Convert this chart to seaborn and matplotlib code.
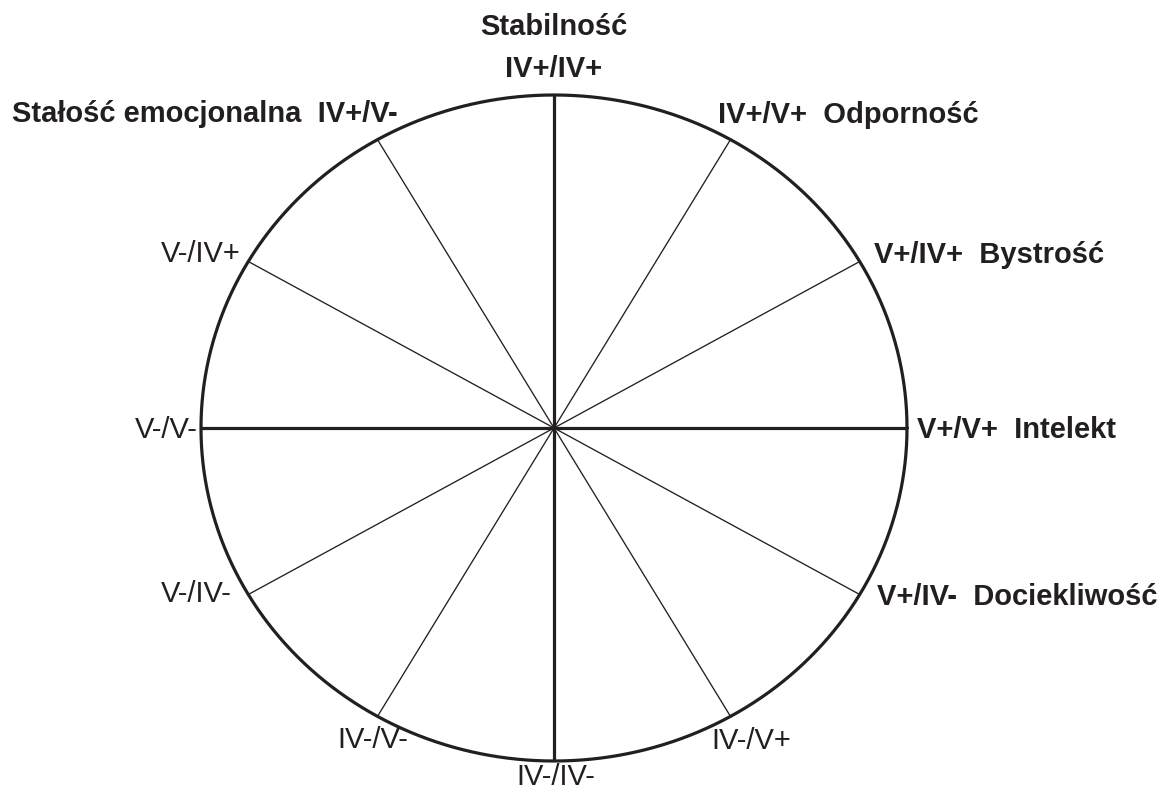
import numpy as np
import pandas as pd
import matplotlib
matplotlib.use("Agg")
import matplotlib.pyplot as plt
import seaborn as sns

# ---- data ----
spoke_angles = [0, 30, 60, 90, 120, 150, 180, 210, 240, 270, 300, 330]
spoke_main = [True, False, False, True, False, False, True, False, False, True, False, False]
labels = ["V+/V+  Intelekt", "V+/IV+  Bystrość", "IV+/V+  Odporność", "IV+/IV+",
          "Stałość emocjonalna  IV+/V-", "V-/IV+", "V-/V-", "V-/IV-", "IV-/V-",
          "IV-/IV-", "IV-/V+", "V+/IV-  Dociekliwość"]
label_bold = [True, True, True, True, True, False, False, False, False, False, False, True]
top_title = "Stabilność"

# ---- layout (pixels) ----
W, H = 1161, 791
CX, CY, RX, RY = 554, 428, 353, 333
label_pos = [(917, 438, "left"), (874, 263, "left"), (718, 123, "left"), (554, 77, "center"),
             (398, 122, "right"), (241, 262, "right"), (198, 438, "right"), (232, 602, "right"),
             (408, 748, "right"), (556, 785, "center"), (711, 749, "left"), (877, 605, "left")]
title_pos = (554, 35)
ink = "#231f20"
FS = 21

sns.set_theme(style="white")
plt.rcParams["font.family"] = ["Liberation Sans", "DejaVu Sans"]

fig = plt.figure(figsize=(W / 100, H / 100), dpi=100)
fig.patch.set_facecolor("white")
ax = fig.add_axes([0, 0, 1, 1])
ax.set_xlim(-CX / RX, (W - CX) / RX)
ax.set_ylim(-(H - CY) / RY, CY / RY)
ax.axis("off")

# spokes
for ang, main in zip(spoke_angles, spoke_main):
    t = np.deg2rad(ang)
    seg = pd.DataFrame({"x": [0.0, np.cos(t)], "y": [0.0, np.sin(t)]})
    sns.lineplot(data=seg, x="x", y="y", sort=False, estimator=None, ax=ax,
                 color=ink, lw=2.3 if main else 0.95, solid_capstyle="butt")

# outer ellipse
theta = np.linspace(0, 2 * np.pi, 721)
circ = pd.DataFrame({"x": np.cos(theta), "y": np.sin(theta)})
sns.lineplot(data=circ, x="x", y="y", sort=False, estimator=None, ax=ax, color=ink, lw=2.3)

# labels
for txt, bold, (px, py, ha) in zip(labels, label_bold, label_pos):
    fig.text(px / W, 1 - py / H, txt, ha=ha, va="baseline", fontsize=FS,
             fontweight="bold" if bold else "normal", color=ink)
fig.text(title_pos[0] / W, 1 - title_pos[1] / H, top_title, ha="center", va="baseline",
         fontsize=FS, fontweight="bold", color=ink)

fig.savefig("out.png", dpi=100, facecolor="white")
